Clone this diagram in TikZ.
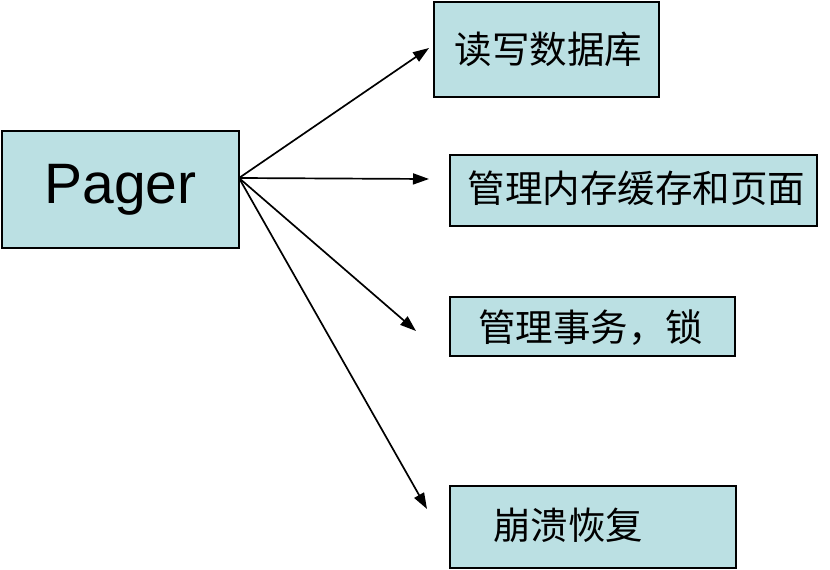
\documentclass[tikz,border=0pt]{standalone}
\usepackage{fontspec}
\setmainfont{Liberation Sans}
\newfontfamily\cjk{Noto Sans CJK SC}
\usetikzlibrary{arrows.meta}
\definecolor{boxfill}{HTML}{BBE0E3}
\begin{document}
\begin{tikzpicture}[x=1pt,y=-1pt,
  box/.style={draw=black,line width=2pt,fill=boxfill,inner sep=0pt},
  cjktext/.style={font=\cjk\fontsize{37.5}{42}\selectfont,inner sep=0pt},
  arr/.style={line width=1.7pt,-{Triangle[length=16pt,width=11pt]}}]
\useasboundingbox (0,0) rectangle (830,570);
% boxes
\node[box,minimum width=237pt,minimum height=117pt,font=\fontsize{57}{62}\selectfont] (pager) at (120.5,189.5) {Pager};
\node[box,minimum width=225pt,minimum height=95pt] (b1) at (546.5,49.5) {};
\node[box,minimum width=367pt,minimum height=71pt] (b2) at (633.5,190.5) {};
\node[box,minimum width=285pt,minimum height=59pt] (b3) at (592.5,326.5) {};
\node[box,minimum width=286pt,minimum height=82pt] (b4) at (593,527) {};
% texts
\node[cjktext] (t1) at (548.5,49) {读写数据库};
\node[cjktext] (t2) at (636.5,188) {管理内存缓存和页面};
\node[cjktext] (t3) at (590.5,328) {管理事务，锁};
\node[cjktext] (t4) at (568,525) {崩溃恢复};
% arrows
\coordinate (src) at (239,178);
\coordinate (e1) at (429,48);
\coordinate (e2) at (429,179);
\coordinate (e3) at (416,331);
\coordinate (e4) at (427,509);
\draw[arr] (src) -- (e1);
\draw[arr] (src) -- (e2);
\draw[arr] (src) -- (e3);
\draw[arr] (src) -- (e4);
\end{tikzpicture}
\end{document}
